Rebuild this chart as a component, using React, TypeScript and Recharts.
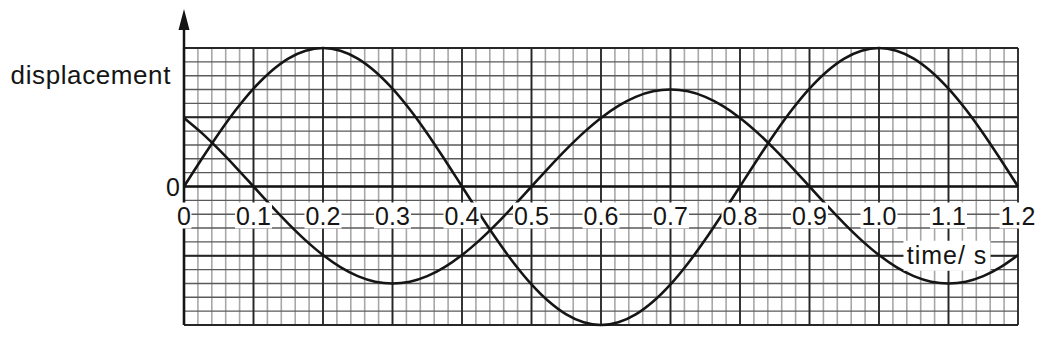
import React from 'react';
import { LineChart, Line, XAxis, YAxis, ReferenceLine, ReferenceDot } from 'recharts';

// Sample times (s)
const times = [
  0, 0.025, 0.05, 0.075, 0.1, 0.125, 0.15, 0.175, 0.2, 0.225, 0.25, 0.275, 0.3,
  0.325, 0.35, 0.375, 0.4, 0.425, 0.45, 0.475, 0.5, 0.525, 0.55, 0.575, 0.6,
  0.625, 0.65, 0.675, 0.7, 0.725, 0.75, 0.775, 0.8, 0.825, 0.85, 0.875, 0.9,
  0.925, 0.95, 0.975, 1.0, 1.025, 1.05, 1.075, 1.1, 1.125, 1.15, 1.175, 1.2,
];

// Larger wave: starts at zero, peaks at 0.2 s and 1.0 s
const largeWave = [
  0, 1.95, 3.83, 5.56, 7.07, 8.31, 9.24, 9.81, 10, 9.81, 9.24, 8.31, 7.07,
  5.56, 3.83, 1.95, 0, -1.95, -3.83, -5.56, -7.07, -8.31, -9.24, -9.81, -10,
  -9.81, -9.24, -8.31, -7.07, -5.56, -3.83, -1.95, 0, 1.95, 3.83, 5.56, 7.07,
  8.31, 9.24, 9.81, 10, 9.81, 9.24, 8.31, 7.07, 5.56, 3.83, 1.95, 0,
];

// Smaller wave: crosses zero at 0.1 s, trough at 0.3 s, peak at 0.7 s
const smallWave = [
  4.95, 3.89, 2.68, 1.37, 0, -1.37, -2.68, -3.89, -4.95, -5.82, -6.47, -6.87, -7,
  -6.87, -6.47, -5.82, -4.95, -3.89, -2.68, -1.37, 0, 1.37, 2.68, 3.89, 4.95,
  5.82, 6.47, 6.87, 7, 6.87, 6.47, 5.82, 4.95, 3.89, 2.68, 1.37, 0,
  -1.37, -2.68, -3.89, -4.95, -5.82, -6.47, -6.87, -7, -6.87, -6.47, -5.82, -4.95,
];

const majorTimeTicks = [0, 0.1, 0.2, 0.3, 0.4, 0.5, 0.6, 0.7, 0.8, 0.9, 1.0, 1.1, 1.2];
const timeTickLabels = ['0', '0.1', '0.2', '0.3', '0.4', '0.5', '0.6', '0.7', '0.8', '0.9', '1.0', '1.1', '1.2'];
const majorDisplacementLines = [-10, -5, 5, 10];

const X_MIN = 0;
const X_MAX = 1.2;
const Y_MIN = -10;
const Y_MAX = 10;

// Fine grid: 0.02 s across, 1 unit up
const minorTimeLines = Array.from({ length: 61 }, (_, i) => +(i * 0.02).toFixed(2));
const minorDisplacementLines = Array.from({ length: 21 }, (_, i) => i - 10);

const data = times.map((t, i) => ({ t, a: largeWave[i], b: smallWave[i] }));

const FONT = '"Liberation Sans", Arial, Helvetica, sans-serif';
const INK = '#151515';

const TickLabel = (props: any) => {
  const { cx, cy, text } = props;
  const w = text.length === 1 ? 15 : 37;
  return (
    <g>
      <rect x={cx - w / 2} y={cy + 16} width={w} height={26} fill="#fff" />
      <text x={cx} y={cy + 38.5} textAnchor="middle" fontSize={25} fontFamily={FONT} fill={INK}>
        {text}
      </text>
    </g>
  );
};

const AxisTop = (props: any) => {
  const { cx, cy } = props;
  return (
    <g>
      <line x1={cx} y1={cy} x2={cx} y2={cy - 20} stroke={INK} strokeWidth={2.5} />
      <polygon points={`${cx},${cy - 39} ${cx - 5.5},${cy - 18} ${cx + 5.5},${cy - 18}`} fill={INK} />
      <text x={cx - 13} y={cy + 36} textAnchor="end" fontSize={26} letterSpacing={0.6} fontFamily={FONT} fill={INK}>
        displacement
      </text>
    </g>
  );
};

const ZeroLabel = (props: any) => {
  const { cx, cy } = props;
  return (
    <text x={cx - 4} y={cy + 9} textAnchor="end" fontSize={25} fontFamily={FONT} fill={INK}>
      0
    </text>
  );
};

const TimeTitle = (props: any) => {
  const { cx, cy } = props;
  return (
    <g>
      <rect x={cx - 45} y={cy - 15} width={87} height={30} fill="#fff" />
      <text x={cx - 1.5} y={cy + 8} textAnchor="middle" fontSize={25} letterSpacing={1} fontFamily={FONT} fill={INK}>
        time/ s
      </text>
    </g>
  );
};

export default function App() {
  return (
    <div style={{ position: 'absolute', left: 0, top: 0 }}>
      <LineChart
        width={1040}
        height={347}
        data={data}
        margin={{ top: 48, right: 22, bottom: 22, left: 184 }}
      >
        <XAxis dataKey="t" type="number" domain={[X_MIN, X_MAX]} hide />
        <YAxis type="number" domain={[Y_MIN, Y_MAX]} hide />

        {minorTimeLines.map((v) => (
          <ReferenceLine key={`vx${v}`} x={v} stroke="#a8a8a8" strokeWidth={1.6} />
        ))}
        {minorDisplacementLines.map((v) => (
          <ReferenceLine key={`hy${v}`} y={v} stroke="#5a5a5a" strokeWidth={1.4} />
        ))}
        {majorTimeTicks.map((v) => (
          <ReferenceLine key={`mx${v}`} x={v} stroke="#262626" strokeWidth={1.8} />
        ))}
        {majorDisplacementLines.map((v) => (
          <ReferenceLine key={`my${v}`} y={v} stroke="#262626" strokeWidth={1.8} />
        ))}

        <ReferenceLine y={0} stroke={INK} strokeWidth={2.4} />
        <ReferenceLine x={0} stroke={INK} strokeWidth={2.6} />

        {majorTimeTicks.map((v, i) => (
          <ReferenceDot
            key={`lbl${v}`}
            x={v}
            y={0}
            ifOverflow="visible"
            shape={(p: any) => <TickLabel {...p} text={timeTickLabels[i]} />}
          />
        ))}
        <ReferenceDot x={X_MIN} y={Y_MAX} ifOverflow="visible" shape={(p: any) => <AxisTop {...p} />} />
        <ReferenceDot x={X_MIN} y={0} ifOverflow="visible" shape={(p: any) => <ZeroLabel {...p} />} />
        <ReferenceDot x={1.1} y={-5} ifOverflow="visible" shape={(p: any) => <TimeTitle {...p} />} />

        <Line
          dataKey="a"
          type="monotone"
          stroke={INK}
          strokeWidth={2.6}
          dot={false}
          activeDot={false}
          isAnimationActive={false}
        />
        <Line
          dataKey="b"
          type="monotone"
          stroke={INK}
          strokeWidth={2.6}
          dot={false}
          activeDot={false}
          isAnimationActive={false}
        />
      </LineChart>
    </div>
  );
}
